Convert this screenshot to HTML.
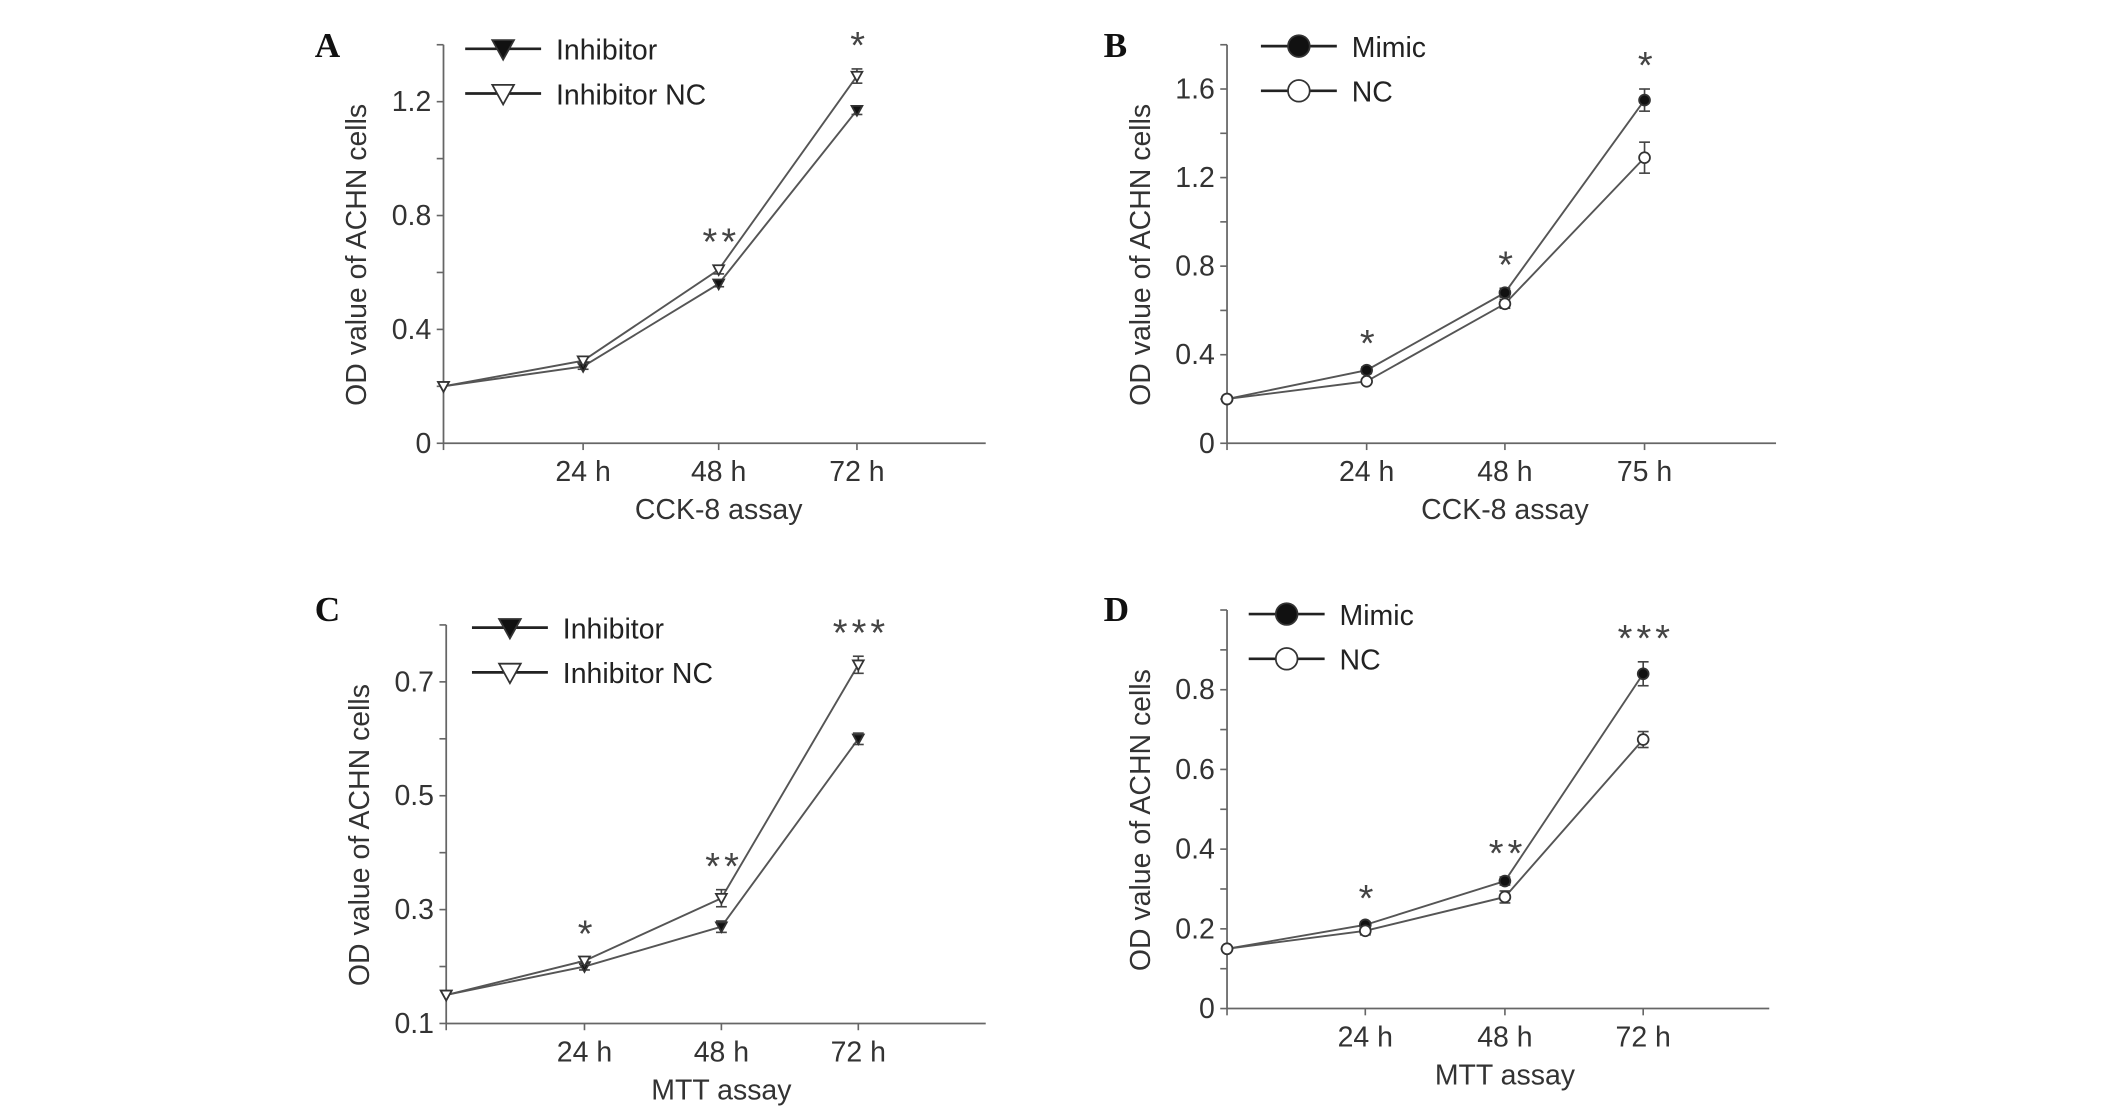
<!DOCTYPE html>
<html><head><meta charset="utf-8"><style>
html,body{margin:0;padding:0;background:#fff;}
svg{display:block;}
text{font-family:"Liberation Sans",Arial,sans-serif;fill:#333;}
</style></head><body>
<svg id="fig" width="2126" height="1117" viewBox="0 0 1568 824" xmlns="http://www.w3.org/2000/svg"></svg>
<script>
const categories = ["0 h","24 h","48 h","72 h"];
const catLabelsB = ["","24 h","48 h","75 h"];
const aInhibitor = [0.2, 0.27, 0.56, 1.17];
const aInhibitorNC = [0.2, 0.29, 0.61, 1.29];
const aErr1 = [0, 0.01, 0.01, 0.015];
const aErr2 = [0, 0.01, 0.015, 0.025];
const bMimic = [0.2, 0.33, 0.68, 1.55];
const bNC = [0.2, 0.28, 0.63, 1.29];
const bErr1 = [0, 0.015, 0.02, 0.05];
const bErr2 = [0, 0.01, 0.02, 0.07];
const cInhibitor = [0.15, 0.20, 0.27, 0.60];
const cInhibitorNC = [0.15, 0.21, 0.32, 0.73];
const cErr1 = [0, 0.006, 0.01, 0.01];
const cErr2 = [0, 0.006, 0.015, 0.015];
const dMimic = [0.15, 0.21, 0.32, 0.84];
const dNC = [0.15, 0.195, 0.28, 0.675];
const dErr1 = [0, 0.008, 0.01, 0.03];
const dErr2 = [0, 0.01, 0.015, 0.02];
const aTicks = [0, 0.4, 0.8, 1.2];
const bTicks = [0, 0.4, 0.8, 1.2, 1.6];
const cTicks = [0.1, 0.3, 0.5, 0.7];
const dTicks = [0, 0.2, 0.4, 0.6, 0.8];
const aStars = ["", "", "**", "*"];
const bStars = ["", "*", "*", "*"];
const cStars = ["", "*", "**", "***"];
const dStars = ["", "*", "**", "***"];

const NS = "http://www.w3.org/2000/svg";
const svg = document.getElementById('fig');
function el(tag, attrs, parent, txt){
  const e = document.createElementNS(NS, tag);
  for (const k in attrs) e.setAttribute(k, attrs[k]);
  if (txt !== undefined) e.textContent = txt;
  (parent || svg).appendChild(e);
  return e;
}
function marker(g, type, x, y, r){
  let m;
  if (type === 'tri-fill' || type === 'tri-open') {
    m = el('polygon', {points:`${x-r},${y-r*0.8} ${x+r},${y-r*0.8} ${x},${y+r}`, fill: type==='tri-fill'?'#111':'#fff', stroke:'#333','stroke-width':1.3}, g);
  } else {
    m = el('circle', {cx:x, cy:y, r:r, fill: type==='circ-fill'?'#111':'#fff', stroke:'#333','stroke-width':1.3}, g);
  }
  return m;
}
function panel(p){
  const g = el('g', {});
  
  
  const ys = v => p.y0 - (v - p.ymin) / (p.ymax - p.ymin) * (p.y0 - p.ytop);
  const xs = i => p.xpos[i];
  const lt = el('text', {x:p.letterX, y:p.letterY, 'font-weight':'bold', 'font-size':26, style:'font-family:"Liberation Serif",serif;fill:#111'}, g, p.letter);
  
  
  const ax = el('g', {}, g);
  
  
  el('line', {x1:p.x0, y1:p.ytop, x2:p.x0, y2:p.y0, stroke:'#666', 'stroke-width':1.3}, ax);
  el('line', {x1:p.x0, y1:p.y0, x2:p.xend, y2:p.y0, stroke:'#666', 'stroke-width':1.3}, ax);
  const step = p.ticks[1] - p.ticks[0];
  for (let v = p.ymin; v <= p.ymax + 1e-6; v += step/2) {
    el('line', {x1:p.x0-5, y1:ys(v), x2:p.x0, y2:ys(v), stroke:'#666', 'stroke-width':1.2}, ax);
  }
  p.ticks.forEach(v => {
    const t = el('text', {x:p.x0-9, y:ys(v)+7, 'text-anchor':'end', 'font-size':21}, ax, String(v));
    
    
  });
  p.labels.forEach((l, i) => {
    el('line', {x1:xs(i), y1:p.y0, x2:xs(i), y2:p.y0+5, stroke:'#666', 'stroke-width':1.2}, ax);
    if (l) {
      const t = el('text', {x:xs(i), y:p.y0+28, 'text-anchor':'middle', 'font-size':21}, ax, l);
      
      
    }
  });
  const xt = el('text', {x:xs(2), y:p.y0+56, 'text-anchor':'middle', 'font-size':21}, g, p.xtitle);
  
  
  const ycx = p.x0 - 57, ycy = (p.ytop + p.y0)/2 + 8;
  const yt = el('text', {x:ycx, y:ycy, 'text-anchor':'middle', 'font-size':21, transform:`rotate(-90 ${ycx} ${ycy})`}, g, 'OD value of ACHN cells');
  
  
  p.series.forEach((s, si) => {
    const sg = el('g', {}, g);
    
    
    el('polyline', {points: s.vals.map((v,i)=>`${xs(i)},${ys(v)}`).join(' '), fill:'none', stroke:'#555', 'stroke-width':1.4}, sg);
    s.vals.forEach((v,i) => {
      const e = s.err[i];
      if (e > 0) {
        el('line', {x1:xs(i), y1:ys(v+e), x2:xs(i), y2:ys(v-e), stroke:'#444','stroke-width':1.2}, sg);
        el('line', {x1:xs(i)-4, y1:ys(v+e), x2:xs(i)+4, y2:ys(v+e), stroke:'#444','stroke-width':1.2}, sg);
        el('line', {x1:xs(i)-4, y1:ys(v-e), x2:xs(i)+4, y2:ys(v-e), stroke:'#444','stroke-width':1.2}, sg);
      }
      const m = marker(sg, s.type, xs(i), ys(v), 4);
      
      
    });
    const lg = el('g', {}, g);
    
    
    const ly = p.legY + si*33;
    el('line', {x1:p.legX, y1:ly, x2:p.legX+56, y2:ly, stroke:'#222','stroke-width':2}, lg);
    marker(lg, s.type, p.legX+28, ly, 8);
    el('text', {x:p.legX+67, y:ly+8, 'font-size':21, style:'fill:#222'}, lg, s.name);
  });
  p.stars.forEach((st, i) => {
    if (!st) return;
    const top = Math.max(...p.series.map(s => s.vals[i] + s.err[i]));
    const t = el('text', {x:xs(i)+2, y:ys(top) - 8, 'text-anchor':'middle', 'font-size':28, 'letter-spacing':3, style:'fill:#444'}, g, st);
    
    
  });
}
panel({letter:'A', letterX:232, letterY:42, x0:327, xend:727, y0:327, ytop:33, ymin:0, ymax:1.4,
  ticks:aTicks, xpos:[327,430,530,632], labels:["","24 h","48 h","72 h"], xtitle:'CCK-8 assay',
  legX:343, legY:36, stars:aStars,
  series:[{name:'Inhibitor', vals:aInhibitor, err:aErr1, type:'tri-fill'},{name:'Inhibitor NC', vals:aInhibitorNC, err:aErr2, type:'tri-open'}]});
panel({letter:'B', letterX:814, letterY:42, x0:905, xend:1310, y0:327, ytop:33, ymin:0, ymax:1.8,
  ticks:bTicks, xpos:[905,1008,1110,1213], labels:catLabelsB, xtitle:'CCK-8 assay',
  legX:930, legY:34, stars:bStars,
  series:[{name:'Mimic', vals:bMimic, err:bErr1, type:'circ-fill'},{name:'NC', vals:bNC, err:bErr2, type:'circ-open'}]});
panel({letter:'C', letterX:232, letterY:458, x0:329, xend:727, y0:755, ytop:461, ymin:0.1, ymax:0.8,
  ticks:cTicks, xpos:[329,431,532,633], labels:["","24 h","48 h","72 h"], xtitle:'MTT assay',
  legX:348, legY:463, stars:cStars,
  series:[{name:'Inhibitor', vals:cInhibitor, err:cErr1, type:'tri-fill'},{name:'Inhibitor NC', vals:cInhibitorNC, err:cErr2, type:'tri-open'}]});
panel({letter:'D', letterX:814, letterY:458, x0:905, xend:1305, y0:744, ytop:450, ymin:0, ymax:1.0,
  ticks:dTicks, xpos:[905,1007,1110,1212], labels:["","24 h","48 h","72 h"], xtitle:'MTT assay',
  legX:921, legY:453, stars:dStars,
  series:[{name:'Mimic', vals:dMimic, err:dErr1, type:'circ-fill'},{name:'NC', vals:dNC, err:dErr2, type:'circ-open'}]});
</script>
</body></html>
